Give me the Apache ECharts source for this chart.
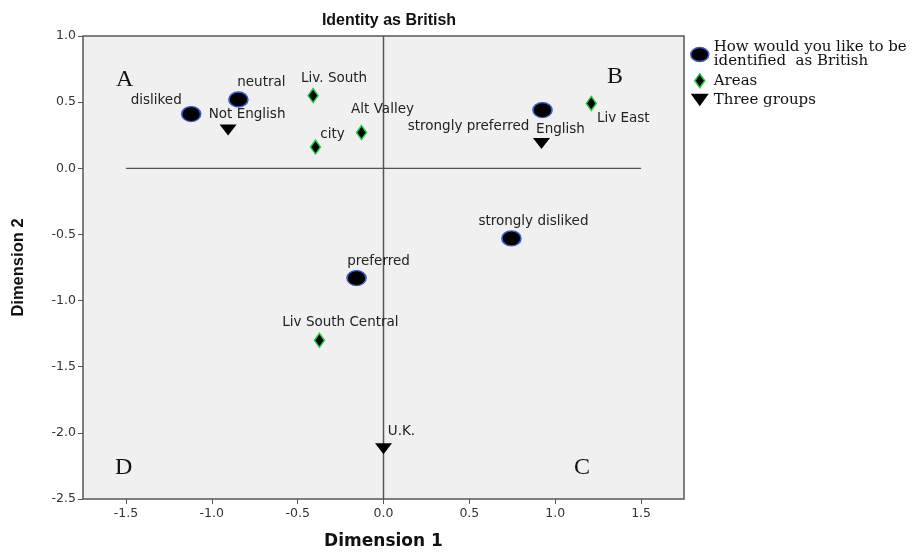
<!DOCTYPE html>
<html>
<head>
<meta charset="utf-8">
<script src="https://cdn.jsdelivr.net/npm/echarts@6/dist/echarts.min.js"></script>
<style>html,body{margin:0;padding:0;background:#fff}#c{width:918px;height:555px}</style>
</head>
<body>
<div id="c"></div>
<script>
// ---- data ----
const prefLabels = ['disliked', 'neutral', 'strongly preferred', 'strongly disliked', 'preferred'];
const prefX = [-1.12, -0.845, 0.926, 0.745, -0.157];
const prefY = [0.41, 0.52, 0.44, -0.53, -0.83];

const areaLabels = ['Liv. South', 'Alt Valley', 'city', 'Liv East', 'Liv South Central'];
const areaX = [-0.41, -0.128, -0.396, 1.21, -0.373];
const areaY = [0.55, 0.27, 0.16, 0.49, -1.30];

const groupLabels = ['Not English', 'English', 'U.K.'];
const groupX = [-0.905, 0.92, 0.0];
const groupY = [0.29, 0.187, -2.12];

const xTicks = [-1.5, -1.0, -0.5, 0.0, 0.5, 1.0, 1.5];
const yTicks = [1.0, 0.5, 0.0, -0.5, -1.0, -1.5, -2.0, -2.5];
const hRefX = [-1.5, 1.5];   // horizontal reference line at y = 0
const vRefY = [1.0, -2.5];   // vertical reference line at x = 0

const seriesNames = ['How would you like to be\nidentified  as British', 'Areas', 'Three groups'];
const quadrantLetters = ['A', 'B', 'C', 'D'];

// ---- label placement (styling, kept separate from data) ----
const prefOffsets = [[-35, -14], [23, -17], [-74, 16], [22, -17], [22, -17]];
const areaOffsets = [[21, -17], [21, -23], [17, -13], [32, 15], [21, -18]];
const groupOffsets = [[19, -15], [19, -14], [18, -17]];

const ellipse = 'path://M0,7 A9,7 0 1 0 18,7 A9,7 0 1 0 0,7 Z';
const diamond = 'path://M5,0 L10,7 L5,14 L0,7 Z';
const downTri = 'path://M0,0 L16,0 L8,11 Z';
const sans = '"DejaVu Sans", Verdana, sans-serif';

function pts(xs, ys, labels, offs) {
  return xs.map((x, i) => ({
    value: [x, ys[i]],
    name: labels[i],
    label: { offset: offs[i] }
  }));
}

const labelStyle = {
  show: true, position: 'inside', formatter: '{b}',
  fontFamily: sans, fontSize: 13.5, color: '#222',
  align: 'center', verticalAlign: 'middle'
};

const chart = echarts.init(document.getElementById('c'), null, { renderer: 'canvas' });
const option = {
  backgroundColor: '#fff',
  animation: false,
  title: {
    text: 'Identity as British', left: 384, top: 8, textAlign: 'center',
    textStyle: { fontFamily: 'Arial, "Liberation Sans", sans-serif', fontSize: 16, fontWeight: 'bold', color: '#111' }
  },
  legend: {
    orient: 'vertical', left: 685, top: 35, itemGap: 4, itemWidth: 18, itemHeight: 14,
    symbolKeepAspect: true,
    textStyle: { fontFamily: '"DejaVu Serif", serif', fontSize: 15, color: '#111', lineHeight: 14 },
    data: [
      { name: seriesNames[0], icon: ellipse, itemStyle: { color: '#000', borderColor: '#3b5bd0', borderWidth: 1.5 } },
      { name: seriesNames[1], icon: diamond, itemStyle: { color: '#000', borderColor: '#22cc44', borderWidth: 1.5 } },
      { name: seriesNames[2], icon: downTri, itemStyle: { color: '#000', borderWidth: 0 } }
    ]
  },
  grid: { left: 83, right: 234, top: 36, bottom: 50, show: true, backgroundColor: '#f0f0f0', borderColor: '#555', borderWidth: 1.5 },
  xAxis: {
    type: 'value', min: -1.75, max: 1.75, position: 'bottom',
    name: 'Dimension 1', nameLocation: 'middle', nameGap: 34,
    nameTextStyle: { fontFamily: sans, fontSize: 17, fontWeight: 'bold', color: '#111' },
    axisLine: { show: false, onZero: false },
    axisTick: { show: true, inside: false, length: 5, customValues: xTicks, lineStyle: { color: '#555' } },
    axisLabel: { customValues: xTicks, fontFamily: sans, fontSize: 12.5, color: '#333', margin: 8,
      formatter: v => v.toFixed(1) },
    splitLine: { show: false }
  },
  yAxis: {
    type: 'value', min: -2.5, max: 1.0, position: 'left',
    name: 'Dimension 2', nameLocation: 'middle', nameGap: 56, nameRotate: 90,
    nameTextStyle: { fontFamily: 'Arial, "Liberation Sans", sans-serif', fontSize: 16.5, fontWeight: 'bold', color: '#111' },
    axisLine: { show: false, onZero: false },
    axisTick: { show: true, inside: false, length: 5, customValues: yTicks, lineStyle: { color: '#555' } },
    axisLabel: { customValues: yTicks, fontFamily: sans, fontSize: 12.5, color: '#333', margin: 7,
      formatter: v => v.toFixed(1) },
    splitLine: { show: false }
  },
  graphic: [
    { type: 'text', left: 116, top: 68, style: { text: quadrantLetters[0], font: '24px "Liberation Serif", "Times New Roman", serif', fill: '#111' } },
    { type: 'text', left: 607, top: 65, style: { text: quadrantLetters[1], font: '24px "Liberation Serif", "Times New Roman", serif', fill: '#111' } },
    { type: 'text', left: 574, top: 456, style: { text: quadrantLetters[2], font: '24px "Liberation Serif", "Times New Roman", serif', fill: '#111' } },
    { type: 'text', left: 115, top: 456, style: { text: quadrantLetters[3], font: '24px "Liberation Serif", "Times New Roman", serif', fill: '#111' } }
  ],
  series: [
    {
      type: 'line', data: hRefX.map(x => [x, 0]), symbol: 'none', silent: true, z: 1,
      lineStyle: { color: '#555', width: 1.2 }
    },
    {
      type: 'line', data: vRefY.map(y => [0, y]), symbol: 'none', silent: true, z: 1,
      lineStyle: { color: '#555', width: 1.5 }
    },
    {
      name: seriesNames[0], type: 'scatter', symbol: ellipse, symbolSize: [19, 15], symbolKeepAspect: false, z: 3,
      itemStyle: { color: '#000', borderColor: '#3b5bd0', borderWidth: 1.5, opacity: 1 },
      label: labelStyle,
      data: pts(prefX, prefY, prefLabels, prefOffsets)
    },
    {
      name: seriesNames[1], type: 'scatter', symbol: diamond, symbolSize: [10, 14], symbolKeepAspect: false, z: 3,
      itemStyle: { color: '#000', borderColor: '#22cc44', borderWidth: 1.5, opacity: 1 },
      label: labelStyle,
      data: pts(areaX, areaY, areaLabels, areaOffsets)
    },
    {
      name: seriesNames[2], type: 'scatter', symbol: downTri, symbolSize: [17, 11], symbolKeepAspect: false, z: 3,
      itemStyle: { color: '#000', opacity: 1 },
      label: labelStyle,
      data: pts(groupX, groupY, groupLabels, groupOffsets)
    }
  ]
};
chart.setOption(option);
</script>
</body>
</html>
